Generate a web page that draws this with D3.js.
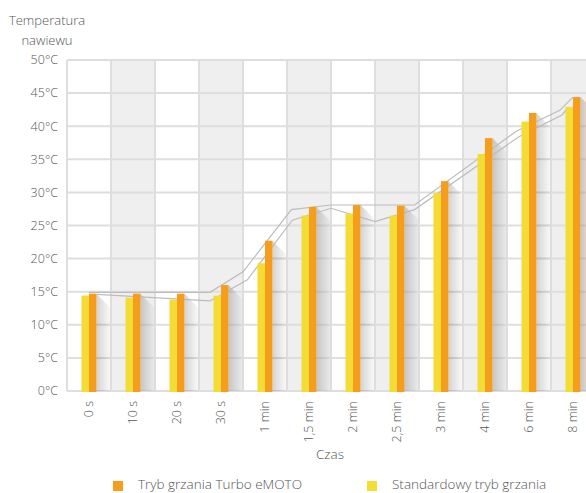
<!DOCTYPE html>
<meta charset="utf-8">
<style>
body { margin: 0; background: #fff; }
text { font-family: "Open Sans", sans-serif; font-weight: 300; fill: #555; }
</style>
<body>
<script src="https://cdn.jsdelivr.net/npm/d3@7"></script>
<script>

var categories = ["0 s", "10 s", "20 s", "30 s", "1 min", "1,5 min", "2 min", "2,5 min", "3 min", "4 min", "6 min", "8 min"];
var turbo    = [14.7, 14.7, 14.7, 16.0, 22.7, 27.8, 28.1, 28.0, 31.7, 38.2, 42.0, 44.4];
var standard = [14.4, 14.1, 13.8, 14.4, 19.3, 26.5, 26.8, 26.5, 29.9, 35.8, 40.7, 42.9];
var yTicks = [0, 5, 10, 15, 20, 25, 30, 35, 40, 45, 50];

// the two thin grey trend lines, position in category units (0 = left edge of "0 s")
var upperLine = [[0.5, 14.9], [3.25, 14.9], [4.0, 18.0], [5.1, 27.4], [6.0, 28.1], [7.0, 28.1], [7.9, 28.1], [10.2, 39.2], [11.2, 42.4], [11.5, 44.4]];
var lowerLine = [[0.68, 14.6], [3.25, 13.6], [4.1, 16.8], [5.12, 25.8], [6.0, 27.6], [7.0, 25.6], [7.9, 27.4], [10.27, 38.4], [11.25, 41.7], [11.4, 42.9]];

var width = 586,
    height = 493;

var plotLeft = 67, plotTop = 60, plotBottom = 391, bandW = 44;

var svg = d3.select("body").append("svg")
    .attr("width", width)
    .attr("height", height);

var x = d3.scaleBand()
    .domain(categories)
    .range([plotLeft, plotLeft + bandW * categories.length])
    .padding(0);

var xPos = d3.scaleLinear()
    .domain([0, categories.length])
    .range([plotLeft, plotLeft + bandW * categories.length]);

var y = d3.scaleLinear()
    .domain([0, 50])
    .range([plotBottom, plotTop]);

var barW = 7.5;

var defs = svg.append("defs");
var grad = defs.append("linearGradient").attr("id", "shadow");
grad.append("stop").attr("offset", "0%").attr("stop-color", "#000").attr("stop-opacity", 0.17);
grad.append("stop").attr("offset", "100%").attr("stop-color", "#000").attr("stop-opacity", 0.02);

// alternating bands
svg.selectAll("rect.band")
    .data(categories.filter(function(d, i) { return i % 2 == 1; }))
  .enter().append("rect")
    .attr("class", "band")
    .attr("x", function(d) { return x(d); })
    .attr("y", plotTop)
    .attr("width", x.bandwidth())
    .attr("height", plotBottom - plotTop)
    .attr("fill", "#efefef");

// grid
svg.selectAll("line.hgrid")
    .data(yTicks)
  .enter().append("line")
    .attr("class", "hgrid")
    .attr("x1", plotLeft)
    .attr("x2", x.range()[1])
    .attr("y1", function(d) { return y(d); })
    .attr("y2", function(d) { return y(d); })
    .attr("stroke", "#dedede")
    .attr("stroke-width", 2);

svg.selectAll("line.vgrid")
    .data(d3.range(categories.length + 1))
  .enter().append("line")
    .attr("class", "vgrid")
    .attr("x1", function(d) { return xPos(d); })
    .attr("x2", function(d) { return xPos(d); })
    .attr("y1", plotTop)
    .attr("y2", plotBottom)
    .attr("stroke", "#dedede")
    .attr("stroke-width", 2);

// shadows behind orange bars
var sw = 14;
svg.selectAll("path.shadow")
    .data(turbo)
  .enter().append("path")
    .attr("class", "shadow")
    .attr("d", function(d, i) {
      var x0 = x(categories[i]) + x.bandwidth() / 2 + barW;
      var y0 = y(d);
      return "M" + x0 + "," + y0 + "L" + (x0 + sw) + "," + (y0 + sw) +
             "L" + (x0 + sw) + "," + plotBottom + "L" + x0 + "," + plotBottom + "Z";
    })
    .attr("fill", "url(#shadow)");

// trend lines
var line = d3.line()
    .x(function(d) { return xPos(d[0]); })
    .y(function(d) { return y(d[1]); });

[upperLine, lowerLine].forEach(function(pts) {
  svg.append("path")
      .attr("d", line(pts))
      .attr("fill", "none")
      .attr("stroke", "#bcbcbc")
      .attr("stroke-width", 1.2);
});

// bars
svg.selectAll("rect.std")
    .data(standard)
  .enter().append("rect")
    .attr("class", "std")
    .attr("x", function(d, i) { return x(categories[i]) + x.bandwidth() / 2 - barW; })
    .attr("y", function(d) { return y(d); })
    .attr("width", barW)
    .attr("height", function(d) { return plotBottom - y(d) + 1; })
    .attr("fill", "#f3dc35");

svg.selectAll("rect.turbo")
    .data(turbo)
  .enter().append("rect")
    .attr("class", "turbo")
    .attr("x", function(d, i) { return x(categories[i]) + x.bandwidth() / 2; })
    .attr("y", function(d) { return y(d); })
    .attr("width", barW)
    .attr("height", function(d) { return plotBottom - y(d) + 1; })
    .attr("fill", "#f79d1c");

// y labels
svg.selectAll("text.ylab")
    .data(yTicks)
  .enter().append("text")
    .attr("class", "ylab")
    .attr("x", 58)
    .attr("y", function(d) { return y(d); })
    .attr("dy", "0.35em")
    .attr("text-anchor", "end")
    .style("font-size", "12.5px")
    .text(function(d) { return d + "°C"; });

// x labels
svg.selectAll("text.xlab")
    .data(categories)
  .enter().append("text")
    .attr("class", "xlab")
    .attr("transform", function(d) {
      return "translate(" + (x(d) + x.bandwidth() / 2) + ",401) rotate(-90)";
    })
    .attr("dy", "0.35em")
    .attr("text-anchor", "end")
    .style("font-size", "12.5px")
    .text(function(d) { return d; });

// titles
svg.append("text").attr("x", 47).attr("y", 25).attr("text-anchor", "middle")
    .style("font-size", "13px").text("Temperatura");
svg.append("text").attr("x", 47).attr("y", 45).attr("text-anchor", "middle")
    .style("font-size", "13px").text("nawiewu");
svg.append("text").attr("x", 330).attr("y", 459).attr("text-anchor", "middle")
    .style("font-size", "13.5px").text("Czas");

// legend
var legend = [["Tryb grzania Turbo eMOTO", "#f79d1c", 113], ["Standardowy tryb grzania", "#f3dc35", 367]];
legend.forEach(function(l) {
  svg.append("rect").attr("x", l[2]).attr("y", 481).attr("width", 10).attr("height", 10).attr("fill", l[1]);
  svg.append("text").attr("x", l[2] + 25).attr("y", 489)
      .style("font-size", "13.5px").text(l[0]);
});

</script>
</body>
